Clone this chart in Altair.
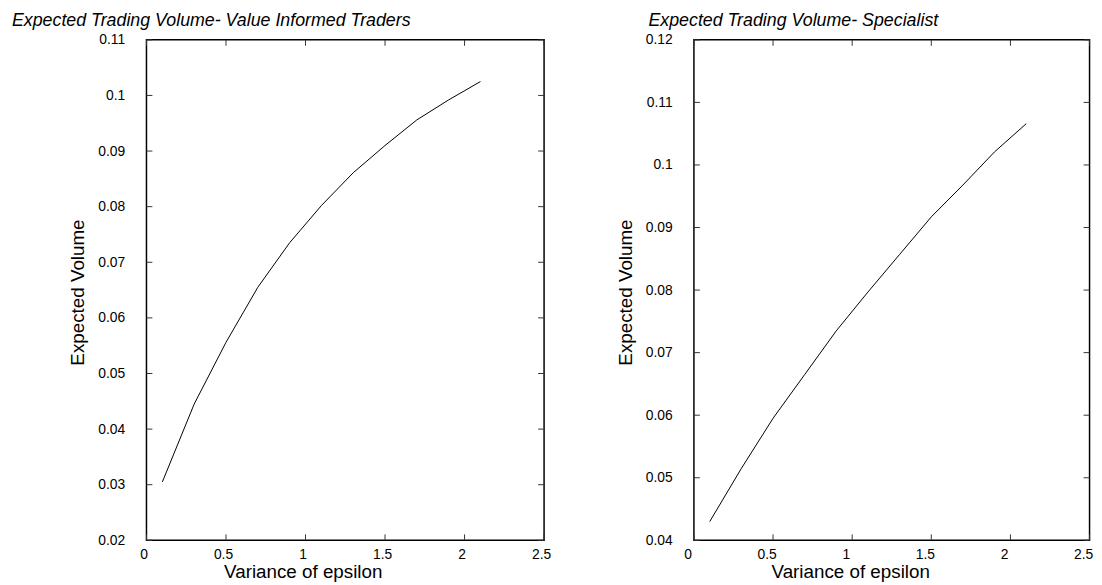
import altair as alt
import pandas as pd

# ---- data ----
variance = [0.1, 0.3, 0.5, 0.7, 0.9, 1.1, 1.3, 1.5, 1.7, 1.9, 2.1]
informed_volume = [0.0305, 0.0445, 0.0556, 0.0655, 0.0735, 0.0802, 0.0861, 0.0910, 0.0956, 0.0992, 0.1025]
specialist_volume = [0.0430, 0.0515, 0.0595, 0.0665, 0.0735, 0.0797, 0.0857, 0.0917, 0.0968, 0.1021, 0.1066]

x_ticks = [0, 0.5, 1, 1.5, 2, 2.5]
informed_ticks = [0.02, 0.03, 0.04, 0.05, 0.06, 0.07, 0.08, 0.09, 0.1, 0.11]
specialist_ticks = [0.04, 0.05, 0.06, 0.07, 0.08, 0.09, 0.1, 0.11, 0.12]

panel_titles = ["Expected Trading Volume- Value Informed Traders",
                "Expected Trading Volume- Specialist"]
x_title = "Variance of epsilon"
y_title = "Expected Volume"

FONT = "Liberation Sans"
H = 506
TICK = 6


def panel(values, yticks, title, width, title_dx, label_offset):
    xs = alt.Scale(domain=[x_ticks[0], x_ticks[-1]], nice=False, zero=False)
    ys = alt.Scale(domain=[yticks[0], yticks[-1]], nice=False, zero=False)
    x_axis = alt.Axis(values=x_ticks, format="~g", title=x_title,
                      labelPadding=7, labelFlush=False, labelOffset=label_offset,
                      titleX=158, titleY=38,
                      titleBaseline="alphabetic", titleAlign="center")
    y_axis = alt.Axis(values=yticks, format="~g", title=y_title,
                      labelPadding=22, titleX=-63.5, titleY=255,
                      titleBaseline="alphabetic", titleAlign="center")

    df = pd.DataFrame({"x": variance, "y": values})
    xt = pd.DataFrame({"x": x_ticks})
    yt = pd.DataFrame({"y": yticks})

    line = alt.Chart(df).mark_line(color="black", strokeWidth=1).encode(
        x=alt.X("x:Q", scale=xs, axis=x_axis),
        y=alt.Y("y:Q", scale=ys, axis=y_axis),
    )
    rule_style = dict(color="#333333", strokeWidth=1)
    bottom = alt.Chart(xt).mark_rule(**rule_style).encode(
        x=alt.X("x:Q", scale=xs, axis=x_axis),
        y=alt.value(H - TICK), y2=alt.value(H))
    top = alt.Chart(xt).mark_rule(**rule_style).encode(
        x=alt.X("x:Q", scale=xs, axis=x_axis),
        y=alt.value(0), y2=alt.value(TICK))
    left = alt.Chart(yt).mark_rule(**rule_style).encode(
        y=alt.Y("y:Q", scale=ys, axis=y_axis),
        x=alt.value(0), x2=alt.value(TICK))
    right = alt.Chart(yt).mark_rule(**rule_style).encode(
        y=alt.Y("y:Q", scale=ys, axis=y_axis),
        x=alt.value(width - TICK), x2=alt.value(width))

    return alt.layer(line, bottom, top, left, right).properties(
        width=width, height=H,
        title=alt.TitleParams(title, anchor="start", frame="group", dx=title_dx,
                              baseline="alphabetic", offset=-11),
    )


left_panel = panel(informed_volume, informed_ticks, panel_titles[0], 402, -136, -3)
right_panel = panel(specialist_volume, specialist_ticks, panel_titles[1], 400, -46, -6.5)

chart = alt.hconcat(left_panel, right_panel, spacing=63.5).properties(
    padding={"left": 3, "top": 0, "right": 0, "bottom": 0}
).configure_view(
    stroke="black", strokeWidth=1.5
).configure_axis(
    domain=False, ticks=False, grid=False,
    labelFont=FONT, labelFontSize=14, labelColor="black",
    titleFont=FONT, titleFontSize=19, titleFontWeight="normal", titleColor="black",
).configure_title(
    font=FONT, fontSize=18, fontStyle="italic", fontWeight="normal", color="black"
)

chart.save("out.html", embed_options={"renderer": "svg", "actions": False})
